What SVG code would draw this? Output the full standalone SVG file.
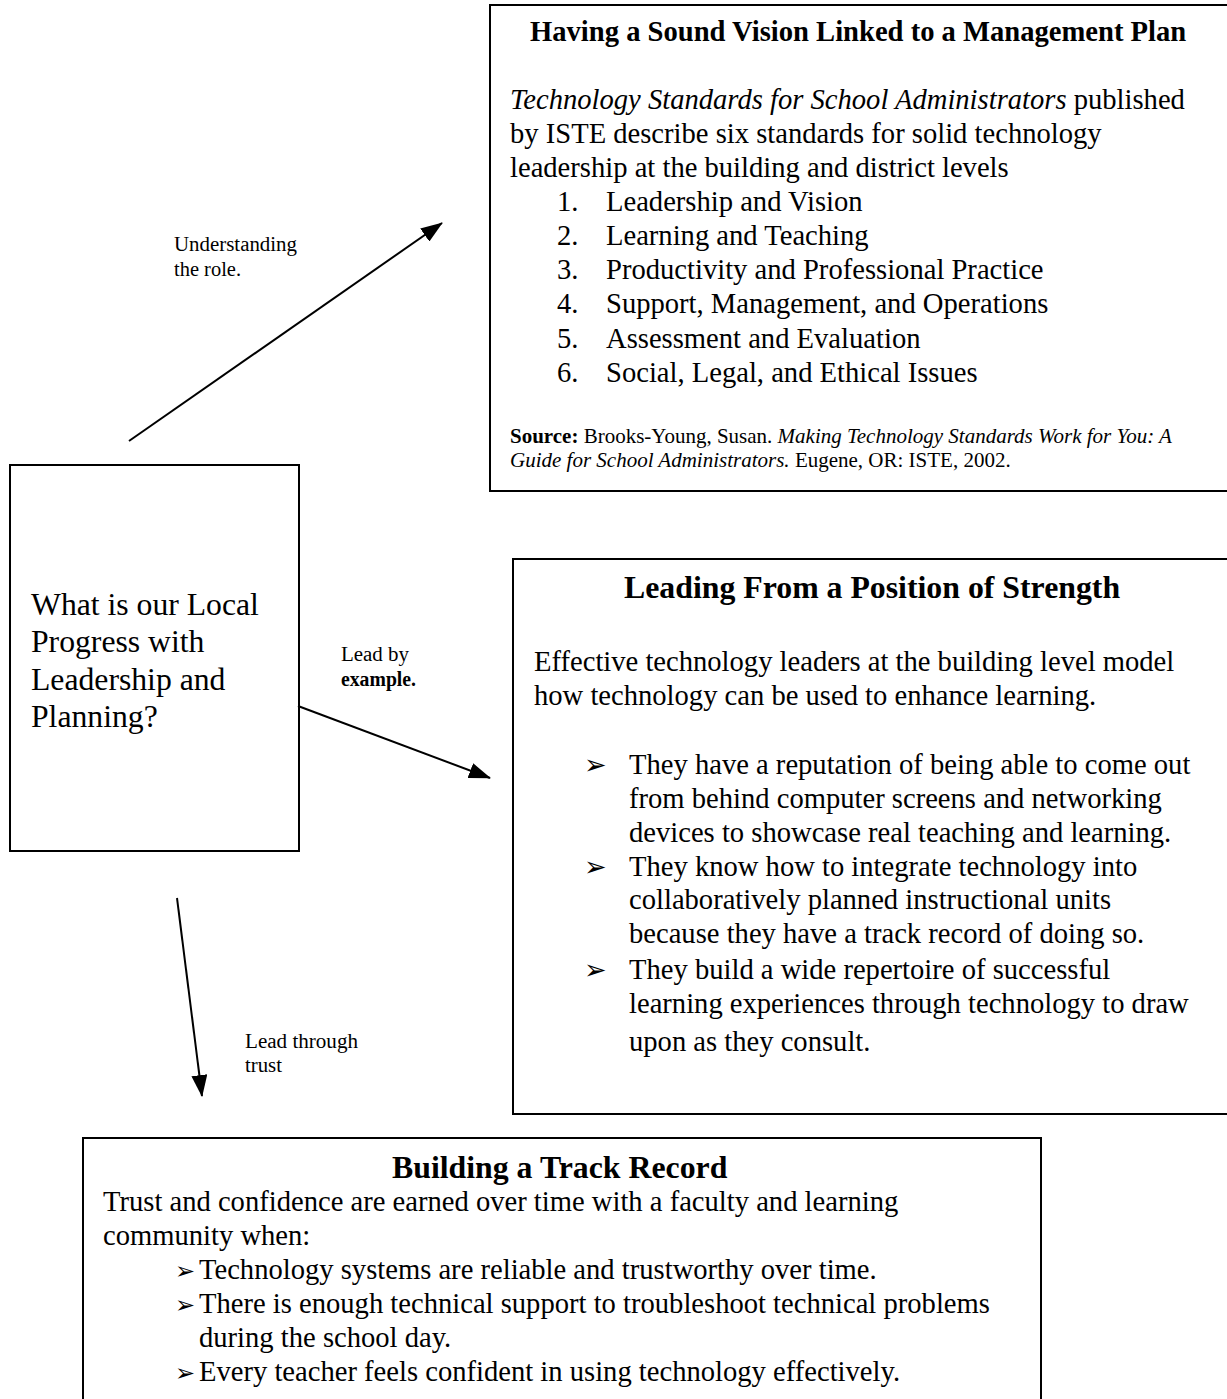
<svg xmlns="http://www.w3.org/2000/svg" width="1227" height="1399" viewBox="0 0 1227 1399">
<style>
text{font-family:"Liberation Serif","Times New Roman",serif;fill:#000}
.box{fill:#fff;stroke:#000;stroke-width:2}
.t{font-size:28.6px}
.h{font-weight:bold}
.i{font-style:italic}
.s{font-size:21px}
.lbl{font-size:20px}
.big{font-size:31.7px}
.ttl{font-size:31.8px;font-weight:bold}
.bul{font-family:"DejaVu Sans",sans-serif;font-size:27px}
.bul2{font-family:"DejaVu Sans",sans-serif;font-size:24px}
.conn{stroke:#000;stroke-width:2;fill:none;marker-end:url(#ah)}
</style>
<defs>
<marker id="ah" viewBox="0 0 22 16" refX="21" refY="8" markerWidth="22" markerHeight="16" markerUnits="userSpaceOnUse" orient="auto">
<path d="M0,0 L22,8 L0,16 Z" fill="#000"/>
</marker>
</defs>
<rect width="1227" height="1399" fill="#fff"/>

<g id="vision">
<rect class="box" x="490" y="5" width="760" height="486"/>
<text class="t h" x="530" y="41">Having a Sound Vision Linked to a Management Plan</text>
<text class="t" x="510" y="109"><tspan class="i">Technology Standards for School Administrators</tspan> published</text>
<text class="t" x="510" y="143">by ISTE describe six standards for solid technology</text>
<text class="t" x="510" y="177">leadership at the building and district levels</text>
<text class="t" x="557" y="211">1.</text>
<text class="t" x="606" y="211">Leadership and Vision</text>
<text class="t" x="557" y="245">2.</text>
<text class="t" x="606" y="245">Learning and Teaching</text>
<text class="t" x="557" y="279">3.</text>
<text class="t" x="606" y="279">Productivity and Professional Practice</text>
<text class="t" x="557" y="313">4.</text>
<text class="t" x="606" y="313">Support, Management, and Operations</text>
<text class="t" x="557" y="348">5.</text>
<text class="t" x="606" y="348">Assessment and Evaluation</text>
<text class="t" x="557" y="382">6.</text>
<text class="t" x="606" y="382">Social, Legal, and Ethical Issues</text>
<text class="s" x="510" y="443"><tspan class="h">Source:</tspan> Brooks-Young, Susan. <tspan class="i">Making Technology Standards Work for You: A</tspan></text>
<text class="s" x="510" y="467"><tspan class="i">Guide for School Administrators.</tspan> Eugene, OR: ISTE, 2002.</text>
</g>

<g id="local">
<rect class="box" x="10" y="465" width="289" height="386"/>
<text class="big" x="31" y="615">What is our Local</text>
<text class="big" x="31" y="652">Progress with</text>
<text class="big" x="31" y="690">Leadership and</text>
<text class="big" x="31" y="727">Planning?</text>
</g>

<g id="strength">
<rect class="box" x="513" y="559" width="740" height="555"/>
<text class="ttl" x="624" y="598">Leading From a Position of Strength</text>
<text class="t" x="534" y="671">Effective technology leaders at the building level model</text>
<text class="t" x="534" y="705">how technology can be used to enhance learning.</text>
<text class="bul" x="584" y="774">➢</text>
<text class="t" x="629" y="774">They have a reputation of being able to come out</text>
<text class="t" x="629" y="808">from behind computer screens and networking</text>
<text class="t" x="629" y="842">devices to showcase real teaching and learning.</text>
<text class="bul" x="584" y="876">➢</text>
<text class="t" x="629" y="876">They know how to integrate technology into</text>
<text class="t" x="629" y="909">collaboratively planned instructional units</text>
<text class="t" x="629" y="943">because they have a track record of doing so.</text>
<text class="bul" x="584" y="979">➢</text>
<text class="t" x="629" y="979">They build a wide repertoire of successful</text>
<text class="t" x="629" y="1013">learning experiences through technology to draw</text>
<text class="t" x="629" y="1051">upon as they consult.</text>
</g>

<g id="track">
<rect class="box" x="83" y="1138" width="958" height="280"/>
<text class="ttl" x="392" y="1178">Building a Track Record</text>
<text class="t" x="103" y="1211">Trust and confidence are earned over time with a faculty and learning</text>
<text class="t" x="103" y="1245">community when:</text>
<text class="bul2" x="175" y="1279">➢</text>
<text class="t" x="199" y="1279">Technology systems are reliable and trustworthy over time.</text>
<text class="bul2" x="175" y="1313">➢</text>
<text class="t" x="199" y="1313">There is enough technical support to troubleshoot technical problems</text>
<text class="t" x="199" y="1347">during the school day.</text>
<text class="bul2" x="175" y="1381">➢</text>
<text class="t" x="199" y="1381">Every teacher feels confident in using technology effectively.</text>
</g>

<g id="connectors">
<line class="conn" x1="129" y1="441" x2="442" y2="223"/>
<line class="conn" x1="298" y1="706" x2="490" y2="778"/>
<line class="conn" x1="177" y1="898" x2="202" y2="1096"/>
<text class="lbl" x="174" y="251" textLength="123" lengthAdjust="spacingAndGlyphs">Understanding</text>
<text class="lbl" x="174" y="276" textLength="67" lengthAdjust="spacingAndGlyphs">the role.</text>
<text class="lbl" x="341" y="661" textLength="68" lengthAdjust="spacingAndGlyphs">Lead by</text>
<text class="lbl h" x="341" y="686" textLength="75" lengthAdjust="spacingAndGlyphs">example.</text>
<text class="lbl" x="245" y="1048" textLength="113" lengthAdjust="spacingAndGlyphs">Lead through</text>
<text class="lbl" x="245" y="1072" textLength="37" lengthAdjust="spacingAndGlyphs">trust</text>
</g>
</svg>
